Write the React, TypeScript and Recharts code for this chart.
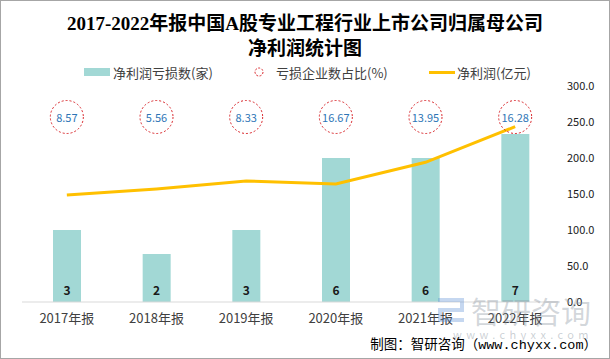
import { ComposedChart, Bar, Line, XAxis, YAxis, Legend, LabelList } from "recharts";

const years = ["2017年报", "2018年报", "2019年报", "2020年报", "2021年报", "2022年报"];
const lossCount = [3, 2, 3, 6, 6, 7];
const lossPct = [8.57, 5.56, 8.33, 16.67, 13.95, 16.28];
const netProfit = [148.5, 157, 168, 164, 194, 243.5];
const rightTicks = [0, 50, 100, 150, 200, 250, 300];

const SANS = '"Noto Sans CJK SC", "Noto Sans", sans-serif';
const CIRCLE_Y = 117;

const data = years.map((year, i) => ({
  year, loss: lossCount[i], pct: lossPct[i], profit: netProfit[i],
}));

const BarValue = (p: any) => (
  <text x={p.x + p.width / 2} y={p.y + p.height - 13} textAnchor="middle" dominantBaseline="central"
    fontSize={12} fontWeight="bold" fill="#1a1a1a" fontFamily={SANS}>{p.value}</text>
);

const PctDot = (p: any) => (
  <g key={`pct-${p.index}`}>
    <ellipse cx={p.cx} cy={CIRCLE_Y} rx={16.5} ry={16.5} fill="none" stroke="#d9262b" strokeWidth={1} strokeDasharray="2 2" />
    <text x={p.cx} y={CIRCLE_Y} textAnchor="middle" dominantBaseline="central" fontSize={11}
      fill="#2e75b6" fontFamily={SANS}>{p.payload.pct.toFixed(2)}</text>
  </g>
);

const legendPos: Record<string, number> = { loss: 84, pct: 254, profit: 429 };

const LegendBox = ({ payload }: any) => (
  <div style={{ position: "relative", height: 20, fontFamily: SANS, fontSize: 13, color: "#404040" }}>
    {(payload || []).map((e: any) => {
      const x = legendPos[e.dataKey];
      let icon;
      if (e.dataKey === "loss") icon = <div style={{ width: 26, height: 8, background: "#a2d8d5", marginRight: 3 }} />;
      else if (e.dataKey === "pct")
        icon = <svg width={22} height={12}><circle cx={5} cy={6} r={4} fill="none" stroke="#d9262b" strokeDasharray="2 1.5" /></svg>;
      else icon = <div style={{ width: 26, height: 3, background: "#ffc000", marginRight: 2 }} />;
      return (
        <div key={e.dataKey} style={{ position: "absolute", left: x, top: 0, display: "flex", alignItems: "center", height: 20, whiteSpace: "nowrap" }}>
          {icon}<span>{e.value}</span>
        </div>
      );
    })}
  </div>
);

export default function App() {
  return (
    <div style={{ position: "absolute", left: 0, top: 0, width: 610, height: 359, background: "#fff", border: "1px solid #a6a6a6", boxSizing: "border-box", overflow: "hidden" }}>
      <div style={{ position: "absolute", left: -1, top: -1 }}>
        <ComposedChart width={610} height={359} data={data} margin={{ top: 86, right: 0, bottom: 27, left: 22 }}>
          <XAxis dataKey="year" height={30} tickLine={false} tickSize={0} tickMargin={12}
            axisLine={{ stroke: "#d9d9d9" }} tick={{ fontSize: 13, fill: "#404040", fontFamily: SANS }} />
          <YAxis yAxisId="count" hide domain={[0, 9]} />
          <YAxis yAxisId="pct" hide domain={[0, 20]} />
          <YAxis yAxisId="right" orientation="right" domain={[0, 300]} ticks={rightTicks} width={50}
            axisLine={false} tickLine={false} tickSize={0} tickMargin={7} tickFormatter={(v) => v.toFixed(1)}
            tick={{ fontSize: 11, fill: "#1a1a1a", fontFamily: SANS }} />
          <Legend layout="horizontal" verticalAlign="middle" content={<LegendBox />} wrapperStyle={{ top: 62, left: 0, width: 610 }} />
          <Bar yAxisId="count" dataKey="loss" name="净利润亏损数(家)" fill="#a2d8d5" barSize={28} isAnimationActive={false}>
            <LabelList dataKey="loss" content={<BarValue />} />
          </Bar>
          <Line yAxisId="pct" dataKey="pct" name="亏损企业数占比(%)" stroke="none" dot={PctDot} activeDot={false} isAnimationActive={false} />
          <Line yAxisId="right" dataKey="profit" name="净利润(亿元)" type="linear" stroke="#ffc000" strokeWidth={3} dot={false} activeDot={false} isAnimationActive={false} />
        </ComposedChart>
      </div>
      <div style={{ position: "absolute", left: -1, top: 10, width: 610, textAlign: "center", fontFamily: '"Liberation Serif", "Noto Sans CJK SC", serif', fontWeight: "bold", fontSize: 19, lineHeight: "25px", color: "#000" }}>
        2017-2022年报中国A股专业工程行业上市公司归属母公司<br />净利润统计图
      </div>
      <div style={{ position: "absolute", left: 437, top: 297, opacity: 0.35 }}>
        <svg width={28} height={24}>
          <rect x={0} y={0} width={26} height={4} fill="#5b8fd6" />
          <rect x={22} y={0} width={4} height={12} fill="#5b8fd6" />
          <rect x={0} y={10} width={26} height={4} fill="#5b8fd6" />
          <rect x={0} y={10} width={4} height={14} fill="#5b8fd6" />
          <rect x={0} y={20} width={26} height={4} fill="#5b8fd6" />
        </svg>
      </div>
      <div style={{ position: "absolute", left: 470, top: 292, fontFamily: SANS, fontSize: 30, lineHeight: "34px", color: "rgba(140,150,160,0.38)", letterSpacing: 0 }}>
        智研咨询
      </div>
      <div style={{ position: "absolute", left: 452, top: 326, fontFamily: SANS, fontSize: 11, lineHeight: "14px", color: "rgba(140,150,160,0.45)", letterSpacing: 4.4 }}>
        www.chyxx.com
      </div>
      <div style={{ position: "absolute", right: 12, top: 336, fontFamily: '"Liberation Mono", "Noto Sans CJK SC", monospace', fontSize: 13.5, lineHeight: "18px", color: "#000" }}>
        制图：智研咨询（www.chyxx.com）
      </div>
    </div>
  );
}
